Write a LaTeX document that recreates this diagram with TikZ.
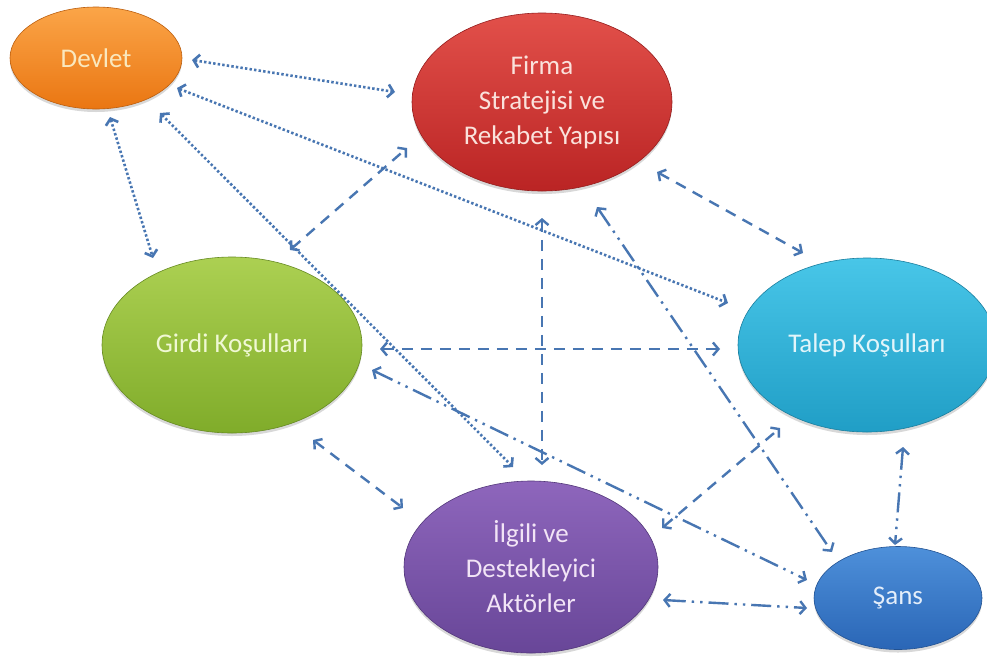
\documentclass[tikz,border=0pt]{standalone}
\usepackage{fontspec}
\setmainfont{Carlito}
\usetikzlibrary{arrows.meta,shapes.geometric,shadows,calc}
\definecolor{linkc}{RGB}{72,118,178}
\definecolor{devA}{RGB}{251,165,72}\definecolor{devB}{RGB}{234,118,18}
\definecolor{firA}{RGB}{226,80,74}\definecolor{firB}{RGB}{186,36,36}
\definecolor{girA}{RGB}{172,208,82}\definecolor{girB}{RGB}{128,172,42}
\definecolor{talA}{RGB}{72,198,232}\definecolor{talB}{RGB}{32,158,198}
\definecolor{ilgA}{RGB}{142,102,188}\definecolor{ilgB}{RGB}{104,70,152}
\definecolor{sanA}{RGB}{78,144,218}\definecolor{sanB}{RGB}{42,102,182}
\begin{document}
\begin{tikzpicture}[x=1pt,y=-1pt,
  >={Straight Barb[length=5.5pt,width=13pt]},
  blob/.style={ellipse, inner sep=0pt, line width=0.6pt, align=center,
    font=\fontsize{27}{35}\selectfont,
    drop shadow={shadow xshift=0pt, shadow yshift=-3pt, opacity=0.25, fill=black!60}},
  devs/.style={blob, top color=devA, bottom color=devB, draw=devB!80!black, text={rgb,255:red,250;green,232;blue,190}},
  firs/.style={blob, top color=firA, bottom color=firB, draw=firB!80!black, text={rgb,255:red,250;green,226;blue,220}},
  girs/.style={blob, top color=girA, bottom color=girB, draw=girB!80!black, text={rgb,255:red,240;green,248;blue,212}},
  tals/.style={blob, top color=talA, bottom color=talB, draw=talB!80!black, text={rgb,255:red,226;green,245;blue,250}},
  ilgs/.style={blob, top color=ilgA, bottom color=ilgB, draw=ilgB!80!black, text={rgb,255:red,242;green,228;blue,246}},
  sans/.style={blob, top color=sanA, bottom color=sanB, draw=sanB!80!black, text={rgb,255:red,228;green,238;blue,250}},
  linkbase/.style={draw=linkc, <->},
  dotlink/.style={linkbase, line width=2.6pt, dash pattern=on 2.4pt off 2.2pt},
  dashlink/.style={linkbase, line width=2.4pt, dash pattern=on 11pt off 8pt},
  dotdashlink/.style={linkbase, line width=2.4pt, dash pattern=on 20pt off 6pt on 2.4pt off 6pt on 2.4pt off 6pt},
]
\fill[white] (0,0) rectangle (987,662);
\useasboundingbox (0,0) rectangle (987,662);

\node[devs, minimum width=172pt, minimum height=102pt] (dev) at (96,58) {Devlet};
\node[firs, minimum width=260pt, minimum height=178pt] (firma) at (542,102) {Firma\\Stratejisi ve\\Rekabet Yapısı};
\node[girs, minimum width=260pt, minimum height=176pt] (girdi) at (232,345) {Girdi Koşulları};
\node[tals, minimum width=258pt, minimum height=174pt] (talep) at (867,345) {Talep Koşulları};
\node[ilgs, minimum width=254pt, minimum height=172pt] (ilgili) at (531,567) {İlgili ve\\Destekleyici\\Aktörler};
\node[sans, minimum width=168pt, minimum height=103pt] (sans) at (898,598) {Şans};

% dotted links (Devlet)
\draw[dotlink] ($(dev)+(96,2)$) -- ($(firma)+(-147,-10)$);
\draw[dotlink] ($(dev)+(81,30)$) -- ($(talep)+(-139,-42)$);
\draw[dotlink] ($(dev)+(64,55)$) -- ($(ilgili)+(-18,-100)$);
\draw[dotlink] ($(dev)+(14,59)$) -- ($(girdi)+(-79,-87)$);

% dashed links
\draw[dashlink] ($(girdi)+(58,-95)$) -- ($(firma)+(-135,46)$);
\draw[dashlink] ($(firma)+(0,116)$) -- ($(ilgili)+(11,-102)$);
\draw[dashlink] ($(firma)+(115,70)$) -- ($(talep)+(-64,-92)$);
\draw[dashlink] ($(girdi)+(148,4)$) -- ($(talep)+(-147,4)$);
\draw[dashlink] ($(girdi)+(81,95)$) -- ($(ilgili)+(-128,-59)$);
\draw[dashlink] ($(ilgili)+(131,-39)$) -- ($(talep)+(-87,83)$);

% long dash dot dot links (Şans)
\draw[dotdashlink] ($(girdi)+(140,25)$) -- ($(sans)+(-91,-18)$);
\draw[dotdashlink] ($(firma)+(55,105)$) -- ($(sans)+(-66,-46)$);
\draw[dotdashlink] ($(talep)+(36,102)$) -- ($(sans)+(-3,-53)$);
\draw[dotdashlink] ($(ilgili)+(132,33)$) -- ($(sans)+(-91,10)$);
\end{tikzpicture}
\end{document}
